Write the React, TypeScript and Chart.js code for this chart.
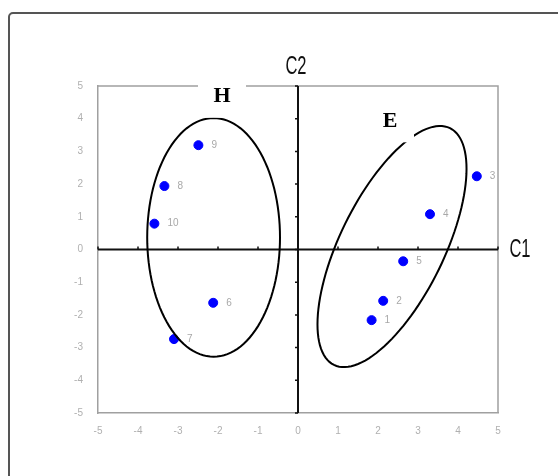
import React, { useEffect, useRef } from "react";
import { Chart, registerables } from "chart.js";

Chart.register(...registerables);

const pointLabels = ["1", "2", "3", "4", "5", "6", "7", "8", "9", "10"];
const c1Values = [1.84, 2.13, 4.47, 3.3, 2.63, -2.12, -3.1, -3.34, -2.49, -3.59];
const c2Values = [-2.16, -1.57, 2.24, 1.08, -0.36, -1.63, -2.74, 1.94, 3.19, 0.79];
const axisTicks = [-5, -4, -3, -2, -1, 0, 1, 2, 3, 4, 5];

// group ellipses (data units): centre, first half-axis vector, second half-axis vector
const groupNames = ["H", "E"];
const groupCenters = [[-2.11, 0.37], [2.35, 0.09]];
const groupAxisU = [[1.66, 0], [1.45, 3.62]];
const groupAxisV = [[0, 3.65], [1.17, -0.7]];
const groupLabelPos = [[-1.9, 4.7], [2.3, 3.95]];

function narrowText(ctx: any, text: string, cx: number, cy: number) {
  ctx.save();
  ctx.translate(cx, cy);
  ctx.scale(0.66, 1);
  ctx.font = "25px 'Liberation Sans', Arial, sans-serif";
  ctx.textAlign = "center";
  ctx.textBaseline = "middle";
  ctx.fillText(text, 0, 0);
  ctx.restore();
}

const overlay = {
  id: "overlay",
  beforeDatasetsDraw(chart: any) {
    const { ctx, chartArea: a, scales } = chart;
    const x = scales.x, y = scales.y;
    ctx.save();
    // outer frame
    ctx.strokeStyle = "#555";
    ctx.lineWidth = 2;
    ctx.beginPath();
    ctx.roundRect(9, 13, 700, 700, 4);
    ctx.stroke();
    // plot frame top/right
    ctx.strokeStyle = "#a0a0a0";
    ctx.lineWidth = 1.5;
    ctx.beginPath();
    ctx.moveTo(a.left, a.top);
    ctx.lineTo(a.right, a.top);
    ctx.lineTo(a.right, a.bottom);
    ctx.stroke();
    // zero axes
    const x0 = x.getPixelForValue(0);
    const y0 = y.getPixelForValue(0);
    ctx.strokeStyle = "#111";
    ctx.lineWidth = 2;
    ctx.beginPath();
    ctx.moveTo(a.left, y0);
    ctx.lineTo(a.right, y0);
    ctx.moveTo(x0, a.top);
    ctx.lineTo(x0, a.bottom);
    ctx.stroke();
    ctx.lineWidth = 1.5;
    ctx.beginPath();
    axisTicks.forEach((t) => {
      const px = x.getPixelForValue(t);
      ctx.moveTo(px, y0);
      ctx.lineTo(px, y0 - 3);
      const py = y.getPixelForValue(t);
      ctx.moveTo(x0, py);
      ctx.lineTo(x0 - 3, py);
    });
    ctx.stroke();
    // axis titles
    ctx.fillStyle = "#111";
    narrowText(ctx, "C2", x0 - 2, a.top - 19);
    narrowText(ctx, "C1", a.right + 22, y0 + 1);
    ctx.restore();
  },
  afterDatasetsDraw(chart: any) {
    const { ctx, scales } = chart;
    const x = scales.x, y = scales.y;
    ctx.save();
    // point labels
    ctx.fillStyle = "#a8a8a8";
    ctx.font = "10px 'Liberation Sans', sans-serif";
    ctx.textAlign = "left";
    ctx.textBaseline = "middle";
    pointLabels.forEach((l, i) => {
      ctx.fillText(l, x.getPixelForValue(c1Values[i]) + 13, y.getPixelForValue(c2Values[i]));
    });
    // ellipses
    ctx.strokeStyle = "#000";
    ctx.lineWidth = 2;
    groupNames.forEach((name, g) => {
      const [cx, cy] = groupCenters[g];
      const [ux, uy] = groupAxisU[g];
      const [vx, vy] = groupAxisV[g];
      ctx.beginPath();
      for (let k = 0; k <= 120; k++) {
        const t = (k / 120) * Math.PI * 2;
        const dx = cx + ux * Math.cos(t) + vx * Math.sin(t);
        const dy = cy + uy * Math.cos(t) + vy * Math.sin(t);
        const px = x.getPixelForValue(dx);
        const py = y.getPixelForValue(dy);
        if (k === 0) ctx.moveTo(px, py);
        else ctx.lineTo(px, py);
      }
      ctx.closePath();
      ctx.stroke();
    });
    // group labels with white boxes
    groupNames.forEach((name, g) => {
      const px = x.getPixelForValue(groupLabelPos[g][0]);
      const py = y.getPixelForValue(groupLabelPos[g][1]);
      ctx.fillStyle = "#fff";
      ctx.fillRect(px - 24, py - 24, 48, 46);
      ctx.fillStyle = "#000";
      ctx.font = "bold 22px 'Liberation Serif', serif";
      ctx.textAlign = "center";
      ctx.textBaseline = "middle";
      ctx.fillText(name, px, py + 1);
    });
    ctx.restore();
  },
};

export default function App() {
  const ref = useRef<HTMLCanvasElement>(null);
  useEffect(() => {
    if (!ref.current) return;
    const chart = new Chart(ref.current, {
      type: "scatter",
      data: {
        labels: pointLabels,
        datasets: [
          {
            data: c1Values.map((v, i) => ({ x: v, y: c2Values[i] })),
            backgroundColor: "#0000ff",
            borderColor: "#0000ff",
            pointRadius: 4.5,
            pointStyle: "circle",
          },
        ],
      },
      options: {
        animation: false,
        responsive: false,
        maintainAspectRatio: false,
        layout: { padding: { left: 0, right: 60, top: 86, bottom: 0 } },
        plugins: { legend: { display: false }, tooltip: { enabled: false } },
        scales: {
          x: {
            type: "linear",
            min: -5,
            max: 5,
            afterFit: (s: any) => { s.height = 63; },
            grid: { display: false, drawTicks: false },
            border: { display: true, color: "#a0a0a0", width: 1.5 },
            ticks: {
              stepSize: 1,
              padding: 12,
              color: "#b0b0b0",
              font: { size: 10, family: "'Liberation Sans', sans-serif" },
            },
          },
          y: {
            type: "linear",
            min: -5,
            max: 5,
            afterFit: (s: any) => { s.width = 98; },
            grid: { display: false, drawTicks: false },
            border: { display: true, color: "#a0a0a0", width: 1.5 },
            ticks: {
              stepSize: 1,
              padding: 15,
              color: "#b0b0b0",
              font: { size: 10, family: "'Liberation Sans', sans-serif" },
            },
          },
        },
      },
      plugins: [overlay],
    });
    return () => chart.destroy();
  }, []);
  return (
    <div style={{ position: "fixed", left: 0, top: 0, width: 558, height: 476, background: "#fff" }}>
      <canvas ref={ref} width={558} height={476} style={{ width: 558, height: 476, display: "block" }} />
    </div>
  );
}
